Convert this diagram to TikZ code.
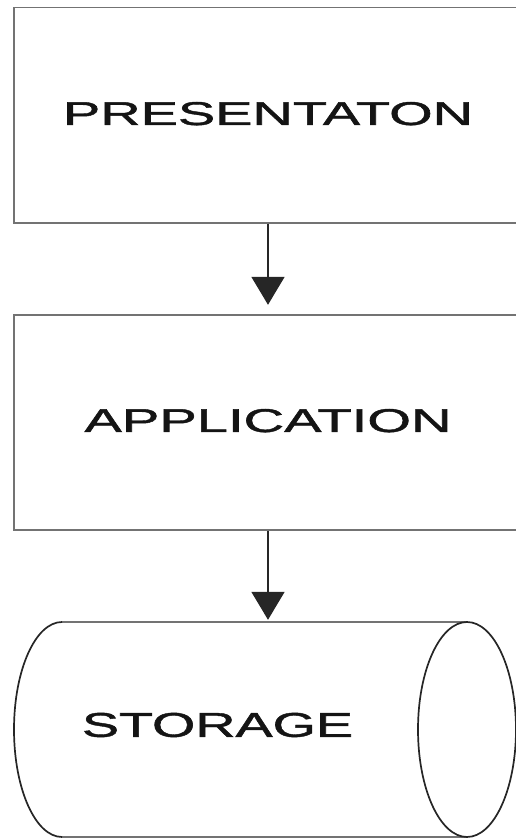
\documentclass[tikz,border=0pt]{standalone}
\usepackage{fontspec}
\setmainfont{Liberation Sans}[FakeBold=1.2]
\usetikzlibrary{arrows.meta}
\begin{document}
\begin{tikzpicture}[x=1pt,y=1pt,
  layerbox/.style={draw=black!55, line width=1.9pt, rectangle, inner sep=0pt,
    minimum width=508pt, minimum height=215.5pt, text=black!92},
  conn/.style={draw=black!85, line width=1.9pt,
    -{Triangle[width=33pt,length=28pt]}},
  rim/.style={draw=black!85, line width=1.7pt},
  side/.style={draw=black!55, line width=1.9pt}]
  \useasboundingbox (0,0) rectangle (515,838);

  % tiers
  \node[layerbox] (pres) at (268,722.75)
    {\raisebox{3.5pt}{\resizebox{410pt}{23pt}{PRESENTATON}}};
  \node[layerbox] (app) at (268,415.5)
    {\raisebox{4pt}{\resizebox{367pt}{23pt}{APPLICATION}}};

  % storage cylinder: outline area and label
  \node[rectangle, minimum width=508pt, minimum height=215pt, inner sep=0pt] (store) at (268,108.5) {};
  \node[inner sep=0pt, text=black!92] (storelabel) at (217.5,113)
    {\resizebox{271pt}{24pt}{STORAGE}};

  \coordinate (ltop) at (62,216);
  \coordinate (lbot) at (62,1);
  \coordinate (rtop) at (467,216);
  \coordinate (rbot) at (467,1);
  \coordinate (rc) at (467,108.5);

  \draw[side] (ltop) -- (rtop);
  \draw[side] (lbot) -- (rbot);
  \draw[rim] (ltop) arc[start angle=90, end angle=270, x radius=48, y radius=107.5];
  \draw[rim] (rc) ellipse[x radius=49, y radius=107.5];

  % connectors
  \draw[conn, shorten >=9pt] (pres.south) -- (app.north);
  \draw[conn, shorten >=2pt] (app.south) -- (store.north);
\end{tikzpicture}
\end{document}
